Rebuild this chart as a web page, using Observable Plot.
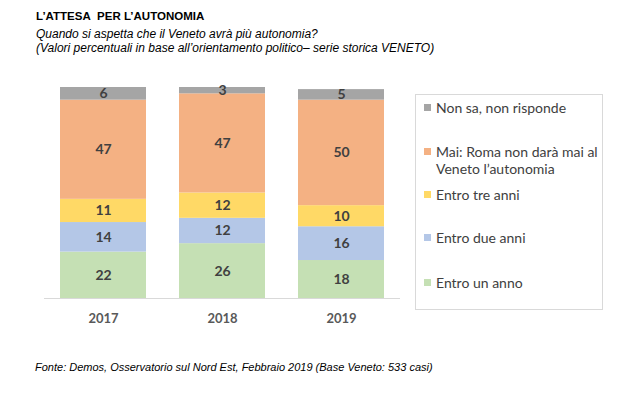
<!DOCTYPE html>
<html>
<head>
<meta charset="utf-8">
<script src="https://cdn.jsdelivr.net/npm/d3@7"></script>
<script src="https://cdn.jsdelivr.net/npm/@observablehq/plot@0.6"></script>
<style>
  html, body { margin: 0; padding: 0; background: #fff; }
  #wrap { position: relative; width: 635px; height: 396px; overflow: hidden; font-family: "Liberation Sans", Arial, sans-serif; }
  .title { position: absolute; left: 36px; top: 10px; font-size: 11.5px; font-weight: bold; color: #000; white-space: nowrap; }
  .sub { position: absolute; left: 36px; font-size: 12px; font-style: italic; color: #000; white-space: nowrap; }
  .foot { position: absolute; left: 35px; top: 361px; font-size: 11px; font-style: italic; color: #000; white-space: nowrap; }
  #chart { position: absolute; left: 0; top: 60px; }
  #legend { position: absolute; left: 415px; top: 94px; width: 188px; height: 216px; border: 1px solid #d9d9d9; box-sizing: border-box; font-family: Lato, "Open Sans", sans-serif; font-size: 14px; color: #404040; }
  .li { position: absolute; left: 20px; line-height: 17px; white-space: nowrap; }
  .sw { position: absolute; left: -12px; top: 5px; width: 7px; height: 7px; }
</style>
</head>
<body>
<div id="wrap">
  <div class="title">L’ATTESA&nbsp; PER L’AUTONOMIA</div>
  <div class="sub" style="top:27px">Quando si aspetta che il Veneto avrà più autonomia?</div>
  <div class="sub" style="top:41px">(Valori percentuali in base all’orientamento politico– serie storica VENETO)</div>
  <div id="chart"></div>
  <div id="legend"></div>
  <div class="foot">Fonte: Demos, Osservatorio sul Nord Est, Febbraio 2019 (Base Veneto: 533 casi)</div>
</div>
<script>
const years = ["2017", "2018", "2019"];
// series from bottom to top
const categories = ["Entro un anno", "Entro due anni", "Entro tre anni", "Mai: Roma non darà mai al Veneto l’autonomia", "Non sa, non risponde"];
const legendLines = [["Entro un anno"], ["Entro due anni"], ["Entro tre anni"], ["Mai: Roma non darà mai al", "Veneto l’autonomia"], ["Non sa, non risponde"]];
const entroUnAnno = [22, 26, 18];
const entroDueAnni = [14, 12, 16];
const entroTreAnni = [11, 12, 10];
const mai = [47, 47, 50];
const nonSa = [6, 3, 5];
const colors = ["#c5e0b4", "#b4c7e7", "#ffd966", "#f4b183", "#a5a5a5"];

const seriesValues = [entroUnAnno, entroDueAnni, entroTreAnni, mai, nonSa];
const data = [];
categories.forEach((c, i) => years.forEach((y, j) => data.push({year: y, cat: c, value: seriesValues[i][j]})));

const chart = Plot.plot({
  width: 410,
  height: 278,
  marginLeft: 44,
  marginRight: 10,
  marginTop: 27,
  marginBottom: 40,
  style: {fontFamily: "Lato, 'Open Sans', sans-serif", background: "transparent"},
  x: {domain: years, paddingInner: 0.28, paddingOuter: 0.13, label: null},
  y: {domain: [0, 100], axis: null},
  color: {domain: categories, range: colors},
  marks: [
    Plot.barY(data, {x: "year", y: "value", fill: "cat", order: categories}),
    Plot.text(data, Plot.stackY({x: "year", y: "value", z: "cat", order: categories, text: d => String(d.value), fill: "#404040", fontSize: 14, fontWeight: "bold"})),
    Plot.ruleY([0], {stroke: "#d9d9d9", strokeWidth: 1.2}),
    Plot.axisX({tickSize: 0, tickPadding: 15, fontSize: 13, fontWeight: "bold", fill: "#595959", label: null})
  ]
});
document.getElementById("chart").appendChild(chart);

// legend
const legend = document.getElementById("legend");
const tops = [179, 134, 91, 48, 4]; // top positions per legend item (inside box)
categories.forEach((c, i) => {
  const d = document.createElement("div");
  d.className = "li";
  d.style.top = tops[i] + "px";
  d.innerHTML = legendLines[i].join("<br>");
  const s = document.createElement("span");
  s.className = "sw";
  s.style.background = colors[i];
  d.appendChild(s);
  legend.appendChild(d);
});
</script>
</body>
</html>
